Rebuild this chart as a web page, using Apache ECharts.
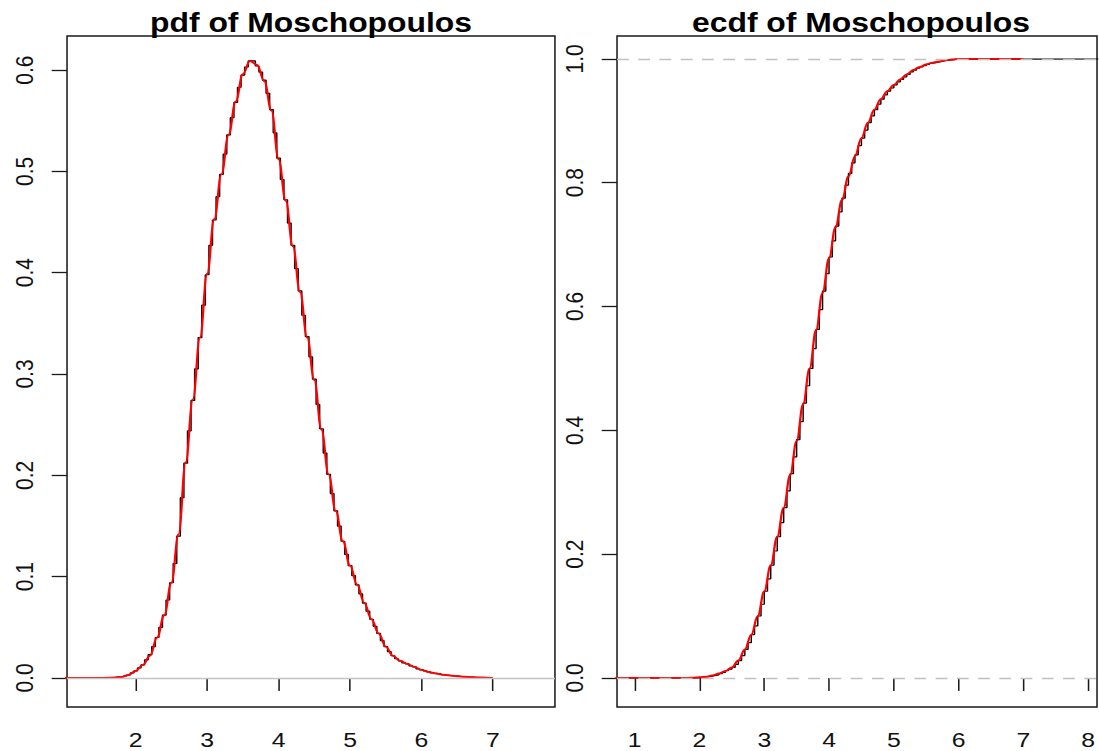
<!DOCTYPE html>
<html>
<head>
<meta charset="utf-8">
<script src="https://cdn.jsdelivr.net/npm/echarts@6/dist/echarts.min.js"></script>
<style>
  html, body { margin: 0; padding: 0; background: #fff; overflow: hidden; width: 1099px; height: 751px; }
  /* the drawing is laid out narrow and widened, like a resized R device */
  #chart { width: 931px; height: 751px; transform: scaleX(1.18); transform-origin: 0 0; }
</style>
</head>
<body>
<div id="chart"></div>
<script>
// ---- titles and tick labels ----
const pdfTitle = 'pdf of Moschopoulos';
const ecdfTitle = 'ecdf of Moschopoulos';
const pdfXTicks = [2, 3, 4, 5, 6, 7];
const pdfYTicks = [0, 0.1, 0.2, 0.3, 0.4, 0.5, 0.6];
const ecdfXTicks = [1, 2, 3, 4, 5, 6, 7, 8];
const ecdfYTicks = [0, 0.2, 0.4, 0.6, 0.8, 1.0];

// ---- axis ranges (R style padding) ----
const pdfXRange = [1.039, 7.868];
const pdfYRange = [-0.0286, 0.6336];
const ecdfXRange = [0.727, 8.137];
const ecdfYRange = [-0.047, 1.037];

// ---- empirical density (step), grid from 1.70 by 0.05 ----
const pdfStepStart = 1.70, pdfStepBy = 0.05;
const pdfStep = [
  0.000, 0.001, 0.001, 0.002, 0.003, 0.005, 0.007, 0.010, 0.013, 0.018,
  0.023, 0.031, 0.040, 0.050, 0.062, 0.077, 0.094, 0.113, 0.140, 0.178,
  0.212, 0.244, 0.274, 0.305, 0.336, 0.368, 0.398, 0.427, 0.452, 0.475,
  0.497, 0.517, 0.536, 0.553, 0.568, 0.583, 0.595, 0.603, 0.609, 0.609,
  0.604, 0.598, 0.590, 0.577, 0.561, 0.538, 0.513, 0.492, 0.472, 0.449,
  0.427, 0.404, 0.382, 0.358, 0.337, 0.317, 0.295, 0.270, 0.246, 0.222,
  0.201, 0.182, 0.165, 0.150, 0.135, 0.122, 0.111, 0.101, 0.092, 0.083,
  0.074, 0.066, 0.058, 0.051, 0.044, 0.037, 0.031, 0.026, 0.022, 0.019,
  0.017, 0.015, 0.014, 0.012, 0.011, 0.009, 0.008, 0.007, 0.006, 0.005,
  0.0045, 0.004, 0.0033, 0.003, 0.0025, 0.002, 0.0018, 0.0015, 0.0013, 0.001,
  0.0009, 0.000
];

// ---- theoretical density, grid from 1.0 by 0.1 ----
const pdfCurveStart = 1.0, pdfCurveBy = 0.1;
const pdfCurve = [
  0, 0, 0, 0, 0, 0, 0.0002, 0.0005, 0.001, 0.003,
  0.007, 0.013, 0.022, 0.040, 0.062, 0.094, 0.142, 0.213, 0.275, 0.336,
  0.399, 0.453, 0.497, 0.536, 0.569, 0.596, 0.609, 0.605, 0.589, 0.560,
  0.512, 0.471, 0.426, 0.381, 0.336, 0.294, 0.245, 0.201, 0.165, 0.135,
  0.111, 0.092, 0.074, 0.058, 0.044, 0.031, 0.022, 0.017, 0.014, 0.011,
  0.008, 0.006, 0.0045, 0.0033, 0.0025, 0.0018, 0.0013, 0.0009, 0.0006, 0.0003,
  0.0001
];

// ---- empirical cdf (step), grid from 1.95 by 0.05 ----
const ecdfStepStart = 1.95, ecdfStepBy = 0.05;
const ecdfStep = [
  0.000, 0.001, 0.0015, 0.002, 0.003, 0.004, 0.005, 0.007, 0.009, 0.012,
  0.014, 0.017, 0.022, 0.028, 0.036, 0.046, 0.057, 0.070, 0.084, 0.100,
  0.119, 0.140, 0.160, 0.182, 0.205, 0.228, 0.251, 0.275, 0.302, 0.330,
  0.357, 0.385, 0.414, 0.444, 0.472, 0.500, 0.532, 0.563, 0.595, 0.625,
  0.653, 0.680, 0.706, 0.730, 0.753, 0.775, 0.796, 0.815, 0.832, 0.845,
  0.860, 0.872, 0.885, 0.897, 0.908, 0.918, 0.927, 0.935, 0.942, 0.948,
  0.953, 0.958, 0.963, 0.967, 0.971, 0.975, 0.979, 0.982, 0.985, 0.987,
  0.989, 0.991, 0.993, 0.994, 0.995, 0.996, 0.997, 0.998, 0.9985, 0.999,
  0.9995, 1.000
];
const ecdfTails = [[0, 0], [9, 1]];

// ---- theoretical cdf, grid from 0.7 by 0.1 ----
const ecdfCurveStart = 0.7, ecdfCurveBy = 0.1;
const ecdfCurve = [
  0, 0, 0, 0, 0, 0, 0, 0, 0, 0, 0, 0,
  0.0003, 0.001, 0.002, 0.004, 0.007, 0.011, 0.017, 0.028, 0.046, 0.070,
  0.100, 0.140, 0.182, 0.228, 0.275, 0.328, 0.383, 0.442, 0.500, 0.562,
  0.622, 0.678, 0.728, 0.772, 0.810, 0.843, 0.872, 0.897, 0.918, 0.935,
  0.948, 0.958, 0.967, 0.975, 0.982, 0.987, 0.991, 0.994, 0.996, 0.998,
  0.999, 1.0,
  1.0, 1.0, 1.0, 1.0, 1.0, 1.0, 1.0, 1.0, 1.0, 1.0
];

function onGrid(start, by, vals) {
  return vals.map((v, i) => [+(start + i * by).toFixed(3), v]);
}

const FONT = "'Liberation Sans', Arial, sans-serif";
const INK = '#1a1a1a';
const panelTop = 36, panelHeight = 671, panelWidth = 413.5;
const panelLeft = [56.8, 522.9];

function xAxisFor(gridIndex, range, ticks) {
  return {
    type: 'value', gridIndex, min: range[0], max: range[1],
    axisLine: { show: false },
    splitLine: { show: false },
    axisTick: { show: true, length: 13, customValues: ticks, lineStyle: { color: INK, width: 1.3 } },
    axisLabel: { customValues: ticks, margin: 22, fontSize: 21, color: '#111', fontFamily: FONT }
  };
}
function yAxisFor(gridIndex, range, ticks) {
  return {
    type: 'value', gridIndex, min: range[0], max: range[1],
    axisLine: { show: false },
    splitLine: { show: false },
    axisTick: { show: true, length: 13, customValues: ticks, lineStyle: { color: INK, width: 1.3 } },
    axisLabel: {
      customValues: ticks, rotate: 90, margin: 26, fontSize: 21, color: '#111', fontFamily: FONT,
      formatter: v => v.toFixed(1)
    }
  };
}

const chart = echarts.init(document.getElementById('chart'), null, { renderer: 'svg' });
chart.setOption({
  animation: false,
  backgroundColor: '#fff',
  title: [
    { text: pdfTitle, left: panelLeft[0] + panelWidth / 2, top: 9, textAlign: 'center', padding: 0,
      textStyle: { fontSize: 27, fontWeight: 'bold', color: '#000', fontFamily: FONT } },
    { text: ecdfTitle, left: panelLeft[1] + panelWidth / 2, top: 9, textAlign: 'center', padding: 0,
      textStyle: { fontSize: 27, fontWeight: 'bold', color: '#000', fontFamily: FONT } }
  ],
  grid: panelLeft.map(l => ({
    left: l, top: panelTop, width: panelWidth, height: panelHeight,
    show: true, borderColor: INK, borderWidth: 1.3, backgroundColor: 'transparent', containLabel: false
  })),
  xAxis: [xAxisFor(0, pdfXRange, pdfXTicks), xAxisFor(1, ecdfXRange, ecdfXTicks)],
  yAxis: [yAxisFor(0, pdfYRange, pdfYTicks), yAxisFor(1, ecdfYRange, ecdfYTicks)],
  series: [
    {
      name: 'density (empirical)', type: 'line', xAxisIndex: 0, yAxisIndex: 0,
      data: onGrid(pdfStepStart, pdfStepBy, pdfStep), step: 'middle',
      showSymbol: false, z: 2, silent: true,
      lineStyle: { color: '#000', width: 1.2 },
      markLine: {
        silent: true, symbol: ['none', 'none'], label: { show: false },
        lineStyle: { color: '#c4c4c4', width: 1.3, type: 'solid' },
        data: [{ yAxis: 0 }]
      }
    },
    {
      name: 'density', type: 'line', xAxisIndex: 0, yAxisIndex: 0,
      data: onGrid(pdfCurveStart, pdfCurveBy, pdfCurve), smooth: 0.4, smoothMonotone: 'x',
      showSymbol: false, z: 4, silent: true,
      lineStyle: { color: '#ff0000', width: 1.9 }
    },
    {
      name: 'cdf (empirical)', type: 'line', xAxisIndex: 1, yAxisIndex: 1,
      data: [ecdfTails[0]].concat(onGrid(ecdfStepStart, ecdfStepBy, ecdfStep), [ecdfTails[1]]),
      step: 'end', showSymbol: false, z: 2, silent: true,
      lineStyle: { color: '#000', width: 1.2 }
    },
    {
      name: 'limits', type: 'line', xAxisIndex: 1, yAxisIndex: 1, data: [], z: 3, silent: true,
      markLine: {
        silent: true, symbol: ['none', 'none'], label: { show: false },
        lineStyle: { color: '#c0c0c0', width: 1.3, type: [10, 8] },
        data: [{ yAxis: 0 }, { yAxis: 1 }]
      }
    },
    {
      name: 'cdf', type: 'line', xAxisIndex: 1, yAxisIndex: 1,
      data: onGrid(ecdfCurveStart, ecdfCurveBy, ecdfCurve), smooth: 0.4, smoothMonotone: 'x',
      showSymbol: false, z: 4, silent: true,
      lineStyle: { color: '#ff0000', width: 1.9 }
    }
  ]
});
</script>
</body>
</html>
